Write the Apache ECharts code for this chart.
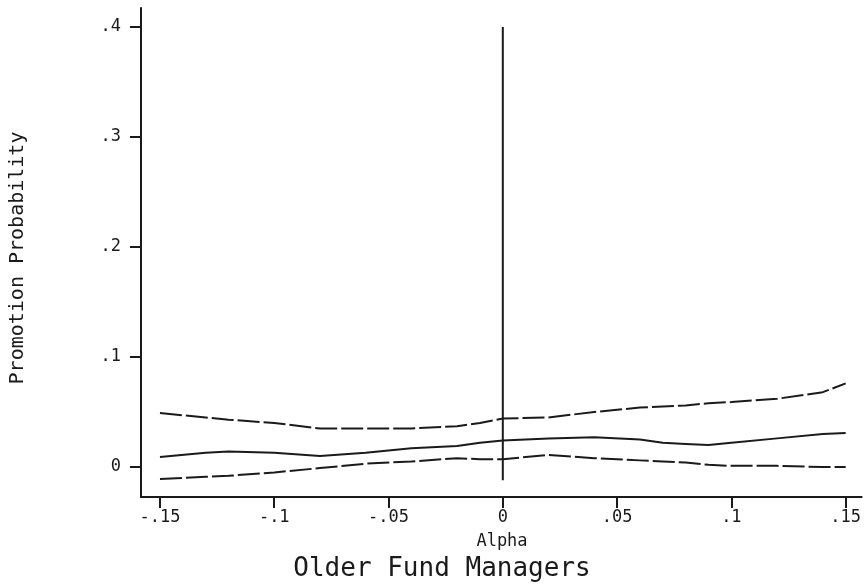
<!DOCTYPE html>
<html><head><meta charset="utf-8">
<script src="https://cdn.jsdelivr.net/npm/echarts@6/dist/echarts.min.js"></script>
<style>html,body{margin:0;padding:0;background:#fff}#c{width:864px;height:585px}</style>
</head><body><div id="c"></div>
<script>
const alpha = [-0.15,-0.13,-0.12,-0.1,-0.08,-0.06,-0.04,-0.02,-0.01,0,0.02,0.04,0.06,0.07,0.08,0.09,0.1,0.12,0.14,0.15];
const upperCI = [0.049,0.045,0.043,0.040,0.035,0.035,0.035,0.037,0.040,0.044,0.045,0.050,0.054,0.055,0.056,0.058,0.059,0.062,0.068,0.076];
const estimate = [0.009,0.013,0.014,0.013,0.010,0.013,0.017,0.019,0.022,0.024,0.026,0.027,0.025,0.022,0.021,0.020,0.022,0.026,0.030,0.031];
const lowerCI = [-0.011,-0.009,-0.008,-0.005,-0.001,0.003,0.005,0.008,0.007,0.007,0.011,0.008,0.006,0.005,0.004,0.002,0.001,0.001,0.000,0.000];
const xTicks = [-0.15,-0.1,-0.05,0,0.05,0.1,0.15];
const xTickLabels = ['-.15','-.1','-.05','0','.05','.1','.15'];
const yTicks = [0,0.1,0.2,0.3,0.4];
const yTickLabels = ['0','.1','.2','.3','.4'];
const refLineX = [0,0];
const refLineY = [0.4,-0.012];

const pair = (xs, ys) => xs.map((x,i)=>[x,ys[i]]);
const font = 'DejaVu Sans Mono';
const ink = '#1a1a1a';
const chart = echarts.init(document.getElementById('c'), null, {renderer:'canvas'});
chart.setOption({
  backgroundColor:'#fff',
  animation:false,
  grid:{left:141, top:8, width:723, height:489, containLabel:false},
  xAxis:{type:'value', min:-0.1583, max:0.157,
    axisLine:{show:true, onZero:false, lineStyle:{color:ink, width:2}},
    axisTick:{show:true, inside:false, length:11, customValues:xTicks, lineStyle:{color:ink, width:2}},
    axisLabel:{customValues:xTicks, margin:12, color:ink, fontFamily:font, fontSize:17,
      formatter:(v)=>{const i=xTicks.findIndex(t=>Math.abs(t-v)<1e-9);return i>=0?xTickLabels[i]:'';}},
    splitLine:{show:false}},
  yAxis:{type:'value', min:-0.0273, max:0.4173,
    axisLine:{show:true, onZero:false, lineStyle:{color:ink, width:2}},
    axisTick:{show:true, inside:false, length:11, customValues:yTicks, lineStyle:{color:ink, width:2}},
    axisLabel:{customValues:yTicks, margin:20, color:ink, fontFamily:font, fontSize:17,
      formatter:(v)=>{const i=yTicks.findIndex(t=>Math.abs(t-v)<1e-9);return i>=0?yTickLabels[i]:'';}},
    splitLine:{show:false}},
  series:[
    {type:'line', data:pair(alpha,upperCI), symbol:'none', lineStyle:{color:ink, width:2, type:[22,4]}},
    {type:'line', data:pair(alpha,estimate), symbol:'none', lineStyle:{color:ink, width:2}},
    {type:'line', data:pair(alpha,lowerCI), symbol:'none', lineStyle:{color:ink, width:2, type:[22,4]}},
    {type:'line', data:pair(refLineX,refLineY), symbol:'none', lineStyle:{color:ink, width:2}}
  ],
  graphic:[
    {type:'text', x:18, y:258, rotation:Math.PI/2, style:{text:'Promotion Probability', fill:ink, font:'20px "'+font+'"', align:'center', verticalAlign:'middle'}},
    {type:'text', x:502, y:542, style:{text:'Alpha', fill:ink, font:'17px "'+font+'"', align:'center', verticalAlign:'middle'}},
    {type:'text', x:442, y:569, style:{text:'Older Fund Managers', fill:ink, font:'26px "'+font+'"', align:'center', verticalAlign:'middle'}}
  ]
});
</script></body></html>
